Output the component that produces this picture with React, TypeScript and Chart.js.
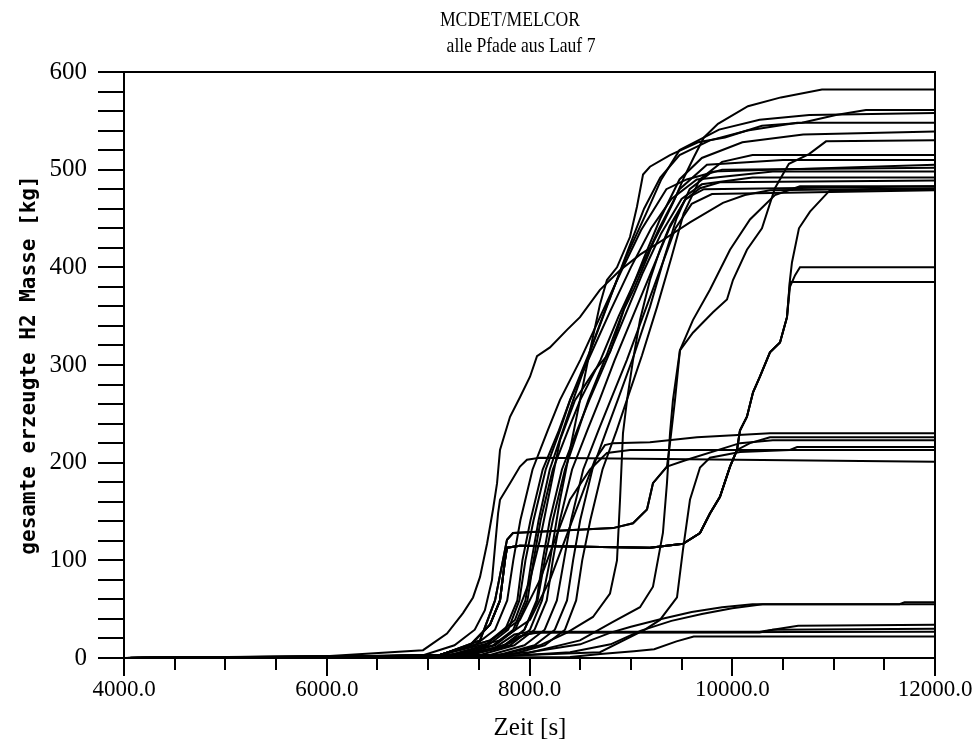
import { useEffect, useRef } from 'react';
import { Chart, registerables } from 'chart.js';

Chart.register(...registerables);

// ---- text ----
const titleLines = ['MCDET/MELCOR', 'alle Pfade aus Lauf 7'];
const xAxisTitle = 'Zeit [s]';
const yAxisTitle = 'gesamte erzeugte H2 Masse [kg]';

// ---- axis ranges / ticks ----
const xRange = [4000, 12000];
const yRange = [0, 600];
const xMinorStep = 500;
const xLabelStep = 2000;
const yMinorStep = 20;
const yLabelStep = 100;

// ---- paths: [time s, mass kg] ----
const path580 = [[4000,0],[6500,1],[7117,3],[7610,18],[7857,39],[8005,80],[8103,121],[8202,172],[8301,223],[8449,264],[8646,295],[8794,313],[8932,357],[9030,378],[9129,402],[9228,427],[9326,447],[9425,468],[9524,492],[9622,513],[9721,533],[9859,547],[10155,565],[10480,574],[10885,582],[12000,582]];
const path561 = [[4000,0],[7413,3],[7808,13],[8005,29],[8123,59],[8202,100],[8301,162],[8399,213],[8498,264],[8597,315],[8695,362],[8764,387],[8863,400],[8991,431],[9060,462],[9120,495],[9188,503],[9386,515],[9662,528],[9928,533],[10293,545],[10688,548],[11023,556],[11319,561],[12000,561]];
const pathEarly = [[4000,0],[6030,2],[6950,8],[7186,25],[7344,46],[7443,62],[7512,83],[7581,117],[7640,152],[7680,179],[7709,213],[7808,247],[7906,267],[8005,288],[8074,309],[8202,318],[8370,336],[8498,349],[8695,377],[8893,397],[9090,413],[9316,428],[9583,446],[9908,466],[10125,474],[10372,479],[12000,481]];
const pathB1 = [[4000,0],[6000,1],[7117,3],[7460,13],[7660,29],[7780,59],[7840,100],[7910,141],[8030,193],[8180,233],[8300,264],[8500,305],[8700,350],[8900,395],[9100,438],[9350,480],[9550,490],[9900,500],[12000,502]];
const pathB2 = [[4000,0],[6000,1],[7214,3],[7560,13],[7760,29],[7880,59],[7930,100],[8010,141],[8130,193],[8290,233],[8400,264],[8600,310],[8800,356],[9000,400],[9200,440],[9400,470],[9650,490],[10400,498],[12000,498]];
const pathB3 = [[4000,0],[6000,1],[7314,3],[7660,13],[7860,29],[7980,59],[8040,100],[8110,141],[8230,193],[8380,233],[8500,264],[8700,305],[8880,350],[9080,395],[9280,440],[9480,480],[9750,505],[10500,510],[12000,510]];
const pathB4 = [[4000,0],[6200,1],[7413,3],[7760,13],[7950,29],[8070,59],[8130,100],[8200,141],[8320,193],[8470,233],[8590,264],[8760,305],[8940,350],[9120,395],[9300,435],[9500,470],[9700,485],[10200,492],[12000,492]];
const pathB5 = [[4000,0],[6200,1],[7512,3],[7850,13],[8050,29],[8170,59],[8230,100],[8300,141],[8420,193],[8570,233],[8690,264],[8840,305],[9020,350],[9200,395],[9380,440],[9540,470],[9720,480],[12000,483]];
const pathB6 = [[4000,0],[6200,1],[7610,3],[7950,13],[8150,29],[8270,59],[8340,100],[8410,141],[8530,193],[8680,233],[8800,264],[8960,305],[9120,350],[9280,395],[9440,440],[9600,465],[9800,475],[12000,479]];
const pathB7 = [[4000,0],[6000,1],[7300,3],[7640,13],[7840,29],[7960,59],[8020,100],[8090,141],[8200,193],[8330,233],[8430,264],[8620,320],[8800,370],[8980,420],[9130,460],[9290,492],[9480,515],[9780,530],[10150,540],[10640,548],[12000,548]];
const pathB8 = [[4000,0],[6200,1],[7400,3],[7750,13],[7950,29],[8080,59],[8150,100],[8230,141],[8350,193],[8480,233],[8580,264],[8760,310],[8940,360],[9130,410],[9290,450],[9480,490],[9700,512],[10100,528],[10700,536],[12000,539]];
const pathB9 = [[4000,0],[6000,1],[7250,3],[7590,13],[7790,29],[7900,59],[7960,100],[8040,141],[8160,193],[8300,233],[8400,264],[8580,310],[8760,360],[8950,410],[9150,455],[9300,490],[9480,520],[9870,541],[10270,551],[10760,556],[12000,558]];
const pathB10 = [[4000,0],[6300,1],[7700,3],[8050,13],[8250,29],[8370,59],[8430,100],[8500,141],[8620,193],[8760,233],[8870,264],[9030,310],[9190,360],[9330,410],[9450,450],[9580,480],[9800,498],[12000,505]];
const pathB11 = [[4000,0],[6300,1],[7800,3],[8150,13],[8350,29],[8460,59],[8520,100],[8600,141],[8720,193],[8860,233],[8960,264],[9110,310],[9260,360],[9400,410],[9520,455],[9680,490],[9900,508],[10200,515],[12000,515]];
const pathLate489 = [[4000,0],[7709,3],[8103,13],[8370,26],[8626,42],[8794,66],[8863,100],[8893,162],[8922,230],[8962,264],[9021,305],[9090,346],[9188,387],[9287,418],[9386,443],[9534,469],[9682,481],[9879,487],[12000,489]];
const pathLate483 = [[4000,0],[7906,3],[8498,18],[8823,37],[9090,52],[9218,73],[9316,128],[9356,179],[9386,230],[9415,264],[9484,315],[9612,346],[9780,377],[9978,418],[10175,449],[10421,474],[10668,483],[12000,483]];
const path128to530 = [[4000,0],[6500,1],[7117,3],[7512,18],[7660,59],[7738,100],[7778,121],[7837,128],[8823,133],[9021,138],[9159,152],[9218,179],[9356,196],[9386,220],[9435,264],[9484,315],[9612,333],[9810,354],[9948,367],[10007,387],[10145,418],[10293,440],[10421,481],[10559,506],[10757,516],[10925,529],[12000,530]];
const path128to223 = [[4000,0],[6500,1],[7117,3],[7512,18],[7660,59],[7738,100],[7778,121],[7837,128],[8823,133],[9021,138],[9159,152],[9218,179],[9356,196],[9553,203],[10076,220],[10400,223],[12000,223]];
const path115to226 = [[4000,0],[6500,1],[7117,3],[7413,13],[7610,34],[7709,59],[7758,100],[7778,113],[7906,115],[9188,113],[9514,117],[9682,128],[9780,148],[9879,165],[9978,196],[10047,213],[10175,220],[10372,226],[12000,226]];
const path115to385 = [[4000,0],[6500,1],[7117,3],[7413,13],[7610,34],[7709,59],[7758,100],[7778,113],[7906,115],[9188,113],[9514,117],[9682,128],[9780,148],[9879,165],[9978,196],[10047,213],[10076,233],[10145,247],[10205,272],[10273,288],[10372,313],[10471,323],[10540,349],[10569,385],[10600,385],[12000,385]];
const path115to400 = [[4000,0],[6500,1],[7117,3],[7413,13],[7610,34],[7709,59],[7758,100],[7778,113],[7906,115],[9188,113],[9514,117],[9682,128],[9780,148],[9879,165],[9978,196],[10047,213],[10076,233],[10145,247],[10205,272],[10273,288],[10372,313],[10471,323],[10540,349],[10569,380],[10620,392],[10668,400],[12000,400]];
const path115to480 = [[4000,0],[6500,1],[7117,3],[7413,13],[7610,34],[7709,59],[7758,100],[7778,113],[7906,115],[9188,113],[9514,117],[9682,128],[9780,148],[9879,165],[9978,196],[10047,213],[10076,233],[10145,247],[10205,272],[10273,288],[10372,313],[10471,323],[10540,349],[10569,387],[10589,405],[10658,440],[10767,457],[10964,479],[12000,480]];
const path200 = [[4000,0],[6000,1],[6960,3],[7260,13],[7460,29],[7560,49],[7630,80],[7690,148],[7709,162],[7808,179],[7906,196],[7975,203],[8103,205],[12000,201]];
const path213 = [[4000,0],[6500,1],[7117,3],[7610,18],[7906,39],[8103,80],[8251,121],[8399,162],[8597,193],[8764,210],[8991,213],[12000,213]];
const path216 = [[4000,0],[7709,2],[8695,6],[9139,29],[9287,39],[9455,62],[9514,111],[9583,162],[9682,195],[9780,205],[10076,211],[10569,213],[10640,216],[12000,216]];
const path230 = [[4000,0],[6500,1],[7117,3],[7709,18],[8005,39],[8202,80],[8350,121],[8498,162],[8646,203],[8744,218],[8823,220],[9188,221],[9652,226],[10372,230],[12000,230]];
const path55 = [[4000,0],[7500,2],[8000,6],[8500,14],[8800,26],[9000,32],[9300,40],[9600,47],[9900,52],[10200,55],[12000,55]];
const path57 = [[4000,0],[7800,2],[8400,6],[8800,14],[9100,28],[9400,38],[9700,45],[10000,51],[10300,55],[11650,55],[11700,57],[12000,57]];
const path34 = [[4000,0],[7000,2],[7500,6],[7800,15],[7950,24],[8100,26],[10270,26],[10400,29],[10650,33],[12000,34]];
const path30 = [[4000,0],[7200,2],[7650,10],[7850,24],[8000,27],[10270,27],[10400,29],[12000,30]];
const path27 = [[4000,0],[7300,2],[7700,10],[7900,22],[8050,26],[12000,27]];
const path21 = [[4000,0],[8400,1],[8700,4],[9030,7],[9230,9],[9450,17],[9620,22],[9690,22],[12000,22]];

const allPaths = [
  path580, path561, pathEarly, pathB1, pathB2, pathB3, pathB4, pathB5, pathB6, pathB7,
  pathB8, pathB9, pathB10, pathB11, pathLate489, pathLate483, path128to530, path128to223,
  path115to226, path115to385, path115to400, path115to480, path200, path213, path216, path230,
  path55, path57, path34, path30, path27, path21,
];

const SERIF = "'Liberation Serif', 'Times New Roman', serif";

const decorPlugin = {
  id: 'decor',
  afterDraw(chart: any) {
    const { ctx, chartArea, scales } = chart;
    const { left, right, top, bottom } = chartArea;
    const x = scales.x;
    const y = scales.y;
    ctx.save();
    ctx.strokeStyle = '#000';
    ctx.lineWidth = 2;
    ctx.beginPath();
    ctx.moveTo(left, top);
    ctx.lineTo(right, top);
    ctx.lineTo(right, bottom);
    ctx.lineTo(left, bottom);
    ctx.closePath();
    ctx.stroke();
    for (let v = yRange[0]; v <= yRange[1]; v += yMinorStep) {
      const py = Math.round(y.getPixelForValue(v));
      ctx.beginPath();
      ctx.moveTo(left - 26, py);
      ctx.lineTo(left, py);
      ctx.stroke();
    }
    for (let v = xRange[0]; v <= xRange[1]; v += xMinorStep) {
      const px = Math.round(x.getPixelForValue(v));
      const len = v % xLabelStep === 0 ? 18 : 12;
      ctx.beginPath();
      ctx.moveTo(px, bottom);
      ctx.lineTo(px, bottom + len);
      ctx.stroke();
    }
    ctx.fillStyle = '#000';
    ctx.textAlign = 'center';
    ctx.textBaseline = 'middle';
    ctx.font = `21px ${SERIF}`;
    ctx.save();
    ctx.translate(510, 20);
    ctx.scale(0.84, 1);
    ctx.fillText(titleLines[0], 0, 0);
    ctx.restore();
    ctx.save();
    ctx.translate(521, 46);
    ctx.scale(0.84, 1);
    ctx.fillText(titleLines[1], 0, 0);
    ctx.restore();
    ctx.font = `25px ${SERIF}`;
    ctx.fillText(xAxisTitle, 530, 728);
    ctx.translate(30, 365);
    ctx.rotate(-Math.PI / 2);
    ctx.font = "bold 21px 'DejaVu Sans Mono', monospace";
    ctx.fillText(yAxisTitle, 0, 0);
    ctx.restore();
  },
};

export default function App() {
  const canvasRef = useRef<HTMLCanvasElement | null>(null);

  useEffect(() => {
    if (!canvasRef.current) return;
    const chart = new Chart(canvasRef.current, {
      type: 'line',
      data: {
        datasets: allPaths.map((p, i) => ({
          label: `Pfad ${i + 1}`,
          data: p.map(([t, m]) => ({ x: t, y: m })),
          borderColor: '#000',
          borderWidth: 2,
          pointRadius: 0,
          fill: false,
          tension: 0,
        })),
      },
      options: {
        animation: false,
        responsive: false,
        devicePixelRatio: 1,
        layout: { padding: { left: 0, top: 72, right: 37, bottom: 0 } },
        plugins: { legend: { display: false }, tooltip: { enabled: false }, title: { display: false } },
        scales: {
          x: {
            type: 'linear',
            min: xRange[0],
            max: xRange[1],
            grid: { display: false, drawTicks: false },
            border: { display: false },
            afterFit: (s: any) => { s.height = 89; s.paddingLeft = 0; s.paddingRight = 0; },
            ticks: {
              stepSize: xLabelStep,
              color: '#000',
              padding: 18,
              maxRotation: 0,
              font: { family: SERIF, size: 23 },
              callback: (v: any) => Number(v).toFixed(1),
            },
          },
          y: {
            type: 'linear',
            min: yRange[0],
            max: yRange[1],
            grid: { display: false, drawTicks: false },
            border: { display: false },
            afterFit: (s: any) => { s.width = 124; s.paddingTop = 0; s.paddingBottom = 0; },
            ticks: {
              stepSize: yLabelStep,
              color: '#000',
              padding: 37,
              font: { family: SERIF, size: 25 },
              callback: (v: any) => String(v),
            },
          },
        },
      },
      plugins: [decorPlugin],
    });
    return () => chart.destroy();
  }, []);

  return (
    <div style={{ position: 'absolute', left: 0, top: 0, width: 972, height: 747, background: '#fff' }}>
      <canvas ref={canvasRef} width={972} height={747} style={{ display: 'block' }} />
    </div>
  );
}
